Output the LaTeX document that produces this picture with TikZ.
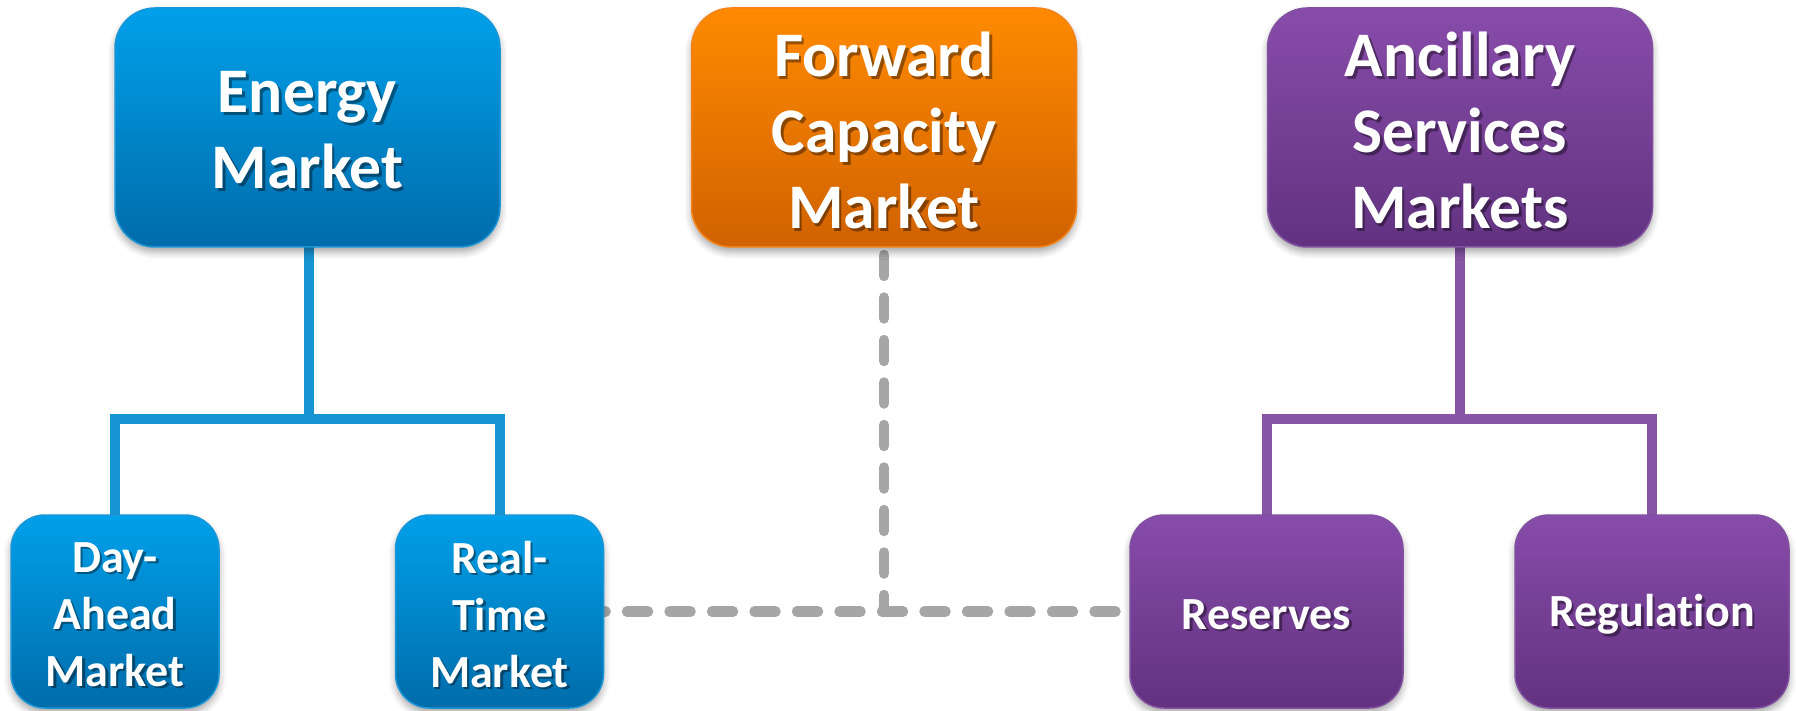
\documentclass[tikz,border=0pt]{standalone}
\usepackage{fontspec}
\setmainfont{Carlito}[Ligatures={NoCommon}]
\usetikzlibrary{shadows.blur}
\definecolor{blueT}{RGB}{0,160,234}
\definecolor{blueB}{RGB}{0,108,170}
\definecolor{blueE}{RGB}{25,150,215}
\definecolor{blueC}{RGB}{22,149,211}
\definecolor{oranT}{RGB}{255,138,0}
\definecolor{oranB}{RGB}{208,98,0}
\definecolor{oranE}{RGB}{245,130,20}
\definecolor{purpT}{RGB}{136,76,170}
\definecolor{purpB}{RGB}{98,50,128}
\definecolor{purpE}{RGB}{130,80,160}
\definecolor{purpC}{RGB}{134,86,164}
\definecolor{greyC}{RGB}{166,166,166}
\tikzset{
  boxbase/.style={inner sep=0pt, line width=1.5pt,
    blur shadow={shadow xshift=0pt, shadow yshift=-5pt, shadow blur radius=7pt, shadow opacity=35}},
  bigbox/.style={boxbase, rounded corners=40pt, minimum width=385pt, minimum height=239pt},
  smallbox/.style={boxbase, rounded corners=34pt, minimum height=193pt},
  bluefill/.style={top color=blueT, bottom color=blueB, draw=blueE},
  orangefill/.style={top color=oranT, bottom color=oranB, draw=oranE},
  purplefill/.style={top color=purpT, bottom color=purpB, draw=purpE},
  bigtxt/.style={align=center, inner sep=0pt, font=\fontsize{63.5pt}{76pt}\selectfont\bfseries},
  smalltxt/.style={align=center, inner sep=0pt, font=\fontsize{46pt}{57pt}\selectfont\bfseries},
  whitetxt/.style={text=white},
  shadowtxt/.style={text=black, text opacity=0.4},
  bluecon/.style={draw=blueC, line width=10pt, line join=miter},
  purplecon/.style={draw=purpC, line width=10pt, line join=miter},
  dashcon/.style={draw=greyC, line width=10.5pt, line cap=round, dash pattern=on 21pt off 21.5pt}
}
\newcommand\mkbox[5]{%
  \node[#1] (#2) at (#3) {};
  \node[shadowtxt, #4] (#2-sh) at ([shift={(2.5,5.5)}]#2.center) {#5};
  \node[whitetxt, #4] (#2-tx) at ([shift={(0,3)}]#2.center) {#5};
}
\begin{document}
\begin{tikzpicture}[x=1pt, y=-1pt]
\useasboundingbox (0,0) rectangle (1796,711);
% connectors (behind boxes)
\coordinate (ebar) at (309,419);
\coordinate (abar) at (1460,419);
\coordinate (fjoin) at (884,611.5);
\path (307.5,127.5) coordinate (energyC) (884,127.5) coordinate (forwardC) (1460,127.5) coordinate (ancC);
\path (115,611.5) coordinate (dayC) (499.5,611.5) coordinate (rtC) (1266.5,611.5) coordinate (resC) (1652,611.5) coordinate (regC);
\draw[bluecon] (ebar |- energyC) -- (ebar);
\draw[bluecon] (dayC) |- (ebar) -| (rtC);
\draw[purplecon] (ancC) -- (abar);
\draw[purplecon] (resC) |- (abar) -| (regC);
\draw[dashcon] (rtC) -- (resC);
\draw[dashcon] (forwardC) -- (fjoin);
% boxes
\mkbox{bigbox, bluefill}{energy}{energyC}{bigtxt}{Energy\\Market}
\mkbox{bigbox, orangefill}{forward}{forwardC}{bigtxt}{Forward\\Capacity\\Market}
\mkbox{bigbox, purplefill}{ancillary}{ancC}{bigtxt}{Ancillary\\Services\\Markets}
\mkbox{smallbox, bluefill, minimum width=208pt}{dayahead}{dayC}{smalltxt}{Day-\\Ahead\\Market}
\mkbox{smallbox, bluefill, minimum width=208pt}{realtime}{rtC}{smalltxt}{Real-\\Time\\Market}
\mkbox{smallbox, purplefill, minimum width=273pt}{reserves}{resC}{smalltxt}{Reserves}
\mkbox{smallbox, purplefill, minimum width=274pt}{regulation}{regC}{smalltxt}{Regulation}
\end{tikzpicture}
\end{document}
